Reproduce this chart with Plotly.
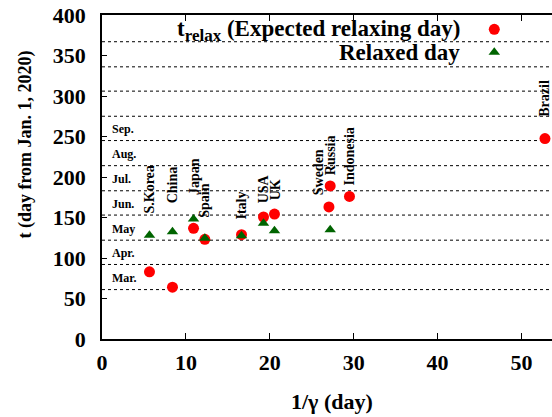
import plotly.graph_objects as go

# ---- data -------------------------------------------------------------
countries = ["S.Korea", "China", "Japan", "Spain", "Italy", "USA", "UK",
             "Sweden", "Russia", "Indonesia", "Brazil"]
inv_gamma = [5.66, 8.40, 10.91, 12.26, 16.63, 19.25, 20.56, 27.05, 27.2, 29.5, 52.8]
t_relax = [83, 64, 136.6, 123, 128.8, 150.6, 154.3, 163, 189, 176, 247.5]
t_relaxed = [128, 132.5, 148, 124.5, 127.5, 142.8, 133.7, None, 135, None, None]

month_names = ["Mar.", "Apr.", "May", "Jun.", "Jul.", "Aug.", "Sep."]
month_start = [61, 92, 122, 153, 183, 214, 245, 275, 306, 336, 367]

x_ticks = [0, 10, 20, 30, 40, 50]
y_ticks = [0, 50, 100, 150, 200, 250, 300, 350, 400]

# ---- label placement (country names, rotated) --------------------------
label_base = [153, 165, 175, 147, 144.4, 165, 169, 175, 200, 187.6, 272.5]
label_dx = [0, 0, 0.2, 0, 0, 0, 0.15, -1.3, 0, 0, 0]

FONT = "Liberation Serif, Times New Roman, serif"
RED = "#ff0000"
GREEN = "#006400"

fig = go.Figure()

fig.add_trace(go.Scatter(
    x=inv_gamma, y=t_relax, mode="markers", name="",
    marker=dict(symbol="circle", size=11, color=RED),
    showlegend=True,
))
fig.add_trace(go.Scatter(
    x=[xv for xv, tv in zip(inv_gamma, t_relaxed) if tv is not None],
    y=[tv for tv in t_relaxed if tv is not None],
    mode="markers", name="",
    marker=dict(symbol="triangle-up", size=10, color=GREEN),
    showlegend=True,
))

shapes = []
for d in month_start:
    shapes.append(dict(type="line", xref="paper", x0=0, x1=1, yref="y", y0=d, y1=d,
                       line=dict(color="black", width=1, dash="dot"), layer="below"))

annotations = []
# month names at mid-month
for name, d in zip(month_names, month_start):
    annotations.append(dict(
        x=1.0, y=d + 14, xref="x", yref="y", text=name, showarrow=False,
        xanchor="left", yanchor="middle",
        font=dict(family=FONT, size=12, color="black", weight="bold"),
    ))
# country names
for c, xv, dx, base in zip(countries, inv_gamma, label_dx, label_base):
    annotations.append(dict(
        x=xv + dx, y=base, xref="x", yref="y", text=c, showarrow=False,
        textangle=-90, xanchor="center", yanchor="bottom",
        font=dict(family=FONT, size=14, color="black", weight="bold"),
    ))
# legend texts
annotations.append(dict(
    x=0.7993, y=0.953, xref="paper", yref="paper",
    text="t<sub><span style='font-size:17px'>relax</span></sub> (Expected relaxing day)",
    showarrow=False, xanchor="right", yanchor="middle",
    font=dict(family=FONT, size=23, color="black", weight="bold"),
))
annotations.append(dict(
    x=0.7993, y=0.883, xref="paper", yref="paper",
    text="Relaxed day", showarrow=False,
    xanchor="right", yanchor="middle",
    font=dict(family=FONT, size=23, color="black", weight="bold"),
))
# axis titles
annotations.append(dict(
    x=-0.1696, y=0.599, xref="paper", yref="paper",
    text="t (day from Jan. 1, 2020)", showarrow=False, textangle=-90,
    xanchor="center", yanchor="middle",
    font=dict(family=FONT, size=18, color="black", weight="bold"),
))
annotations.append(dict(
    x=0.511, y=-0.1935, xref="paper", yref="paper",
    text="1/γ (day)", showarrow=False,
    xanchor="center", yanchor="middle",
    font=dict(family=FONT, size=22, color="black", weight="bold"),
))

fig.update_layout(
    width=552, height=417,
    margin=dict(l=102, r=0, t=15, b=78),
    paper_bgcolor="white", plot_bgcolor="white",
    font=dict(family=FONT, size=22, color="black", weight="bold"),
    shapes=shapes, annotations=annotations,
    legend=dict(x=0.8273, y=1.0068, xanchor="left", yanchor="top",
                bgcolor="rgba(0,0,0,0)", font=dict(size=15.4),
                tracegroupgap=0),
    xaxis=dict(range=[0, 53.64], tickvals=x_ticks, ticks="inside", ticklen=6,
               tickcolor="black", showline=True, linecolor="black", linewidth=1.5,
               mirror="ticks", showgrid=False, zeroline=False,
               ticklabelstandoff=3,
               tickfont=dict(family=FONT, size=22, color="black", weight="bold")),
    yaxis=dict(range=[0, 400], tickvals=y_ticks, ticks="inside", ticklen=5,
               tickcolor="black", showline=True, linecolor="black", linewidth=1.5,
               mirror=False, showgrid=False, zeroline=False,
               ticklabelstandoff=10,
               tickfont=dict(family=FONT, size=22, color="black", weight="bold")),
    showlegend=True,
)

fig.write_html("out.html")
